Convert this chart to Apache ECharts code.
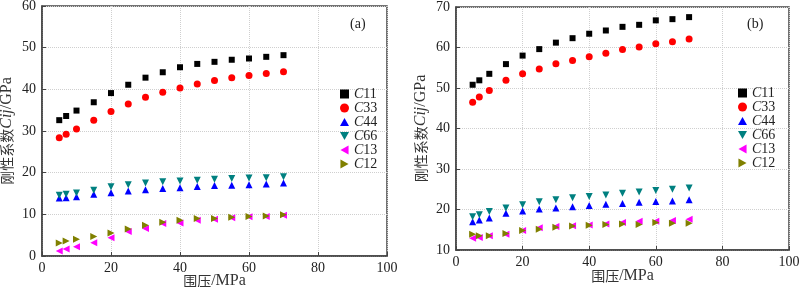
<!DOCTYPE html>
<html>
<head>
<meta charset="utf-8">
<script src="https://cdn.jsdelivr.net/npm/echarts@6/dist/echarts.min.js"></script>
<style>
  html, body { margin: 0; padding: 0; background: #fff; }
  #main { width: 800px; height: 287px; }
</style>
</head>
<body>
<div id="main"></div>
<script>
// confining pressure (MPa)
var pressure = [5, 7, 10, 15, 20, 25, 30, 35, 40, 45, 50, 55, 60, 65, 70];
var names = ['C11', 'C33', 'C44', 'C66', 'C13', 'C12'];

// (a)
var c11A = [32.6, 33.6, 34.9, 36.9, 39.1, 41.1, 42.8, 44.1, 45.3, 46.1, 46.6, 47.1, 47.4, 47.8, 48.2];
var c33A = [28.4, 29.2, 30.5, 32.6, 34.7, 36.5, 38.1, 39.3, 40.3, 41.3, 42.1, 42.8, 43.3, 43.8, 44.2];
var c44A = [13.9, 14.0, 14.2, 14.8, 15.2, 15.6, 15.9, 16.2, 16.4, 16.7, 16.9, 17.0, 17.1, 17.3, 17.5];
var c66A = [14.6, 14.8, 15.1, 15.8, 16.6, 17.1, 17.5, 17.8, 18.0, 18.2, 18.4, 18.6, 18.7, 18.8, 19.0];
var c13A = [1.2, 1.7, 2.2, 3.2, 4.4, 5.9, 6.6, 7.8, 7.9, 8.6, 8.8, 9.2, 9.4, 9.5, 9.8];
var c12A = [3.1, 3.6, 4.0, 4.7, 5.5, 6.5, 7.4, 8.1, 8.6, 9.0, 9.0, 9.3, 9.5, 9.6, 9.9];

// (b)
var c11B = [50.8, 51.9, 53.5, 55.9, 58.0, 59.6, 61.2, 62.3, 63.4, 64.2, 65.1, 65.6, 66.7, 67.0, 67.5];
var c33B = [46.5, 47.8, 49.4, 51.9, 53.5, 54.7, 56.0, 56.8, 57.7, 58.6, 59.5, 60.1, 60.9, 61.4, 62.1];
var c44B = [17.0, 17.4, 17.9, 19.1, 19.6, 20.1, 20.4, 20.7, 21.0, 21.3, 21.5, 21.8, 22.0, 22.1, 22.4];
var c66B = [18.2, 18.7, 19.5, 20.4, 21.2, 21.9, 22.4, 22.9, 23.2, 23.6, 24.0, 24.3, 24.7, 25.0, 25.3];
var c13B = [12.9, 13.1, 13.5, 13.9, 14.8, 15.5, 15.8, 16.0, 16.2, 16.4, 16.8, 17.1, 17.1, 17.3, 17.6];
var c12B = [13.9, 13.5, 13.5, 14.1, 14.8, 15.1, 15.6, 15.9, 16.1, 16.3, 16.4, 16.3, 16.8, 16.6, 16.6];

var serif = 'Liberation Serif';
var cjk = 'Noto Sans CJK SC';
var colors = ['#000000', '#ff0000', '#0000ff', '#008080', '#ff00ff', '#808000'];
// up, down, left and right triangles drawn as paths so legend and points match
var symbols = [
    'rect',
    'circle',
    'path://M5,0L10,9L0,9Z',
    'path://M0,0L10,0L5,9Z',
    'path://M9,0L9,10L0,5Z',
    'path://M0,0L9,5L0,10Z'
];
var sizes = [6, 7, 7, 7, 7, 7];

function pairs(ys) {
    return pressure.map(function (x, i) { return [x, ys[i]]; });
}

function makeSeries(idx, sets) {
    return sets.map(function (ys, k) {
        return {
            name: names[k],
            type: 'scatter',
            xAxisIndex: idx,
            yAxisIndex: idx,
            symbol: symbols[k],
            symbolSize: sizes[k],
            itemStyle: { color: colors[k], opacity: 1 },
            data: pairs(ys)
        };
    });
}

var nameRich = {
    c: { fontFamily: cjk, fontSize: 14, color: '#333' },
    s: { fontFamily: serif, fontSize: 16, color: '#333' },
    i: { fontFamily: serif, fontStyle: 'italic', fontSize: 16, color: '#333' }
};

function xAxis(idx, nameGap) {
    return {
        gridIndex: idx, type: 'value', min: 0, max: 100, interval: 20,
        name: '{c|围压}{s|/MPa}', nameLocation: 'middle', nameGap: nameGap,
        nameMoveOverlap: false,
        nameTextStyle: { fontFamily: serif, fontSize: 16, color: '#333', rich: nameRich },
        axisLine: { lineStyle: { color: '#444', width: 1.5 } },
        axisTick: { inside: true, length: 4, lineStyle: { color: '#444' } },
        axisLabel: { fontFamily: serif, fontSize: 14, color: '#222', margin: 5 },
        splitLine: { show: true, lineStyle: { color: '#cfcfcf', type: 'dotted' } }
    };
}

function yAxis(idx, min, max) {
    return {
        gridIndex: idx, type: 'value', min: min, max: max, interval: 10,
        name: '{c|刚性系数}{i|Cij}{s|/GPa}', nameLocation: 'middle', nameGap: 27, nameRotate: 90,
        nameTextStyle: { fontFamily: serif, fontSize: 16, color: '#333', rich: nameRich },
        axisLine: { lineStyle: { color: '#444', width: 1.5 } },
        axisTick: { inside: true, length: 4, lineStyle: { color: '#444' } },
        axisLabel: { fontFamily: serif, fontSize: 14, color: '#222', margin: 6 },
        splitLine: { show: true, lineStyle: { color: '#cfcfcf', type: 'dotted' } }
    };
}

function legend(left, top) {
    return {
        data: names.map(function (n, k) {
            return { name: n, icon: symbols[k] };
        }),
        orient: 'vertical', left: left, top: top,
        itemWidth: 9, itemHeight: 9, itemGap: 0,
        formatter: function (n) { return '{i|C}{s|' + n.slice(1) + '}'; },
        textStyle: {
            fontFamily: serif, fontSize: 14, color: '#222', lineHeight: 14,
            rich: {
                i: { fontStyle: 'italic', fontFamily: serif, fontSize: 14, lineHeight: 14, color: '#222' },
                s: { fontFamily: serif, fontSize: 14, lineHeight: 14, color: '#222' }
            }
        }
    };
}

var chart = echarts.init(document.getElementById('main'), null, { renderer: 'canvas' });

var option = {
    animation: false,
    backgroundColor: '#fff',
    textStyle: { fontFamily: serif },
    grid: [
        { left: 42, right: 413, top: 6, bottom: 31, containLabel: false, outerBoundsMode: 'none',
          show: true, borderColor: '#444', borderWidth: 1.5 },
        { left: 456, right: 11, top: 7, bottom: 37, containLabel: false, outerBoundsMode: 'none',
          show: true, borderColor: '#444', borderWidth: 1.5 }
    ],
    xAxis: [xAxis(0, 17), xAxis(1, 18)],
    yAxis: [yAxis(0, 0, 60), yAxis(1, 10, 70)],
    legend: [legend(335, 82), legend(733, 81)],
    graphic: [
        { type: 'text', left: 350, top: 17, style: { text: '(a)', font: '14px ' + serif, fill: '#222' } },
        { type: 'text', left: 747, top: 17, style: { text: '(b)', font: '14px ' + serif, fill: '#222' } }
    ],
    series: makeSeries(0, [c11A, c33A, c44A, c66A, c13A, c12A])
        .concat(makeSeries(1, [c11B, c33B, c44B, c66B, c13B, c12B]))
};

chart.setOption(option);
</script>
</body>
</html>
